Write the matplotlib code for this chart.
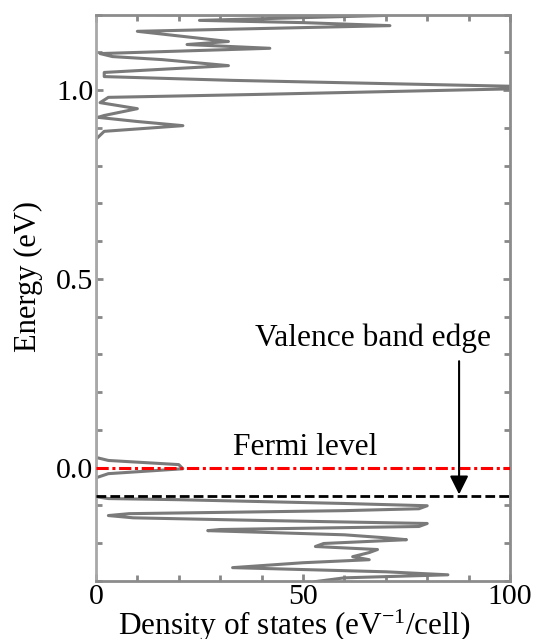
import numpy as np
import matplotlib.pyplot as plt

plt.rcParams['font.family'] = ['Liberation Serif', 'DejaVu Serif']
plt.rcParams['mathtext.fontset'] = 'custom'
plt.rcParams['mathtext.rm'] = 'Liberation Serif'

# density of states (eV^-1/cell) vs energy (eV)
energy = [1.200, 1.198, 1.185, 1.179, 1.171, 1.156, 1.129, 1.121, 1.111, 1.097,
          1.089, 1.081, 1.065, 1.047, 1.036, 1.026, 1.007, 0.989, 0.981, 0.967,
          0.951, 0.933, 0.928, 0.917, 0.906, 0.891, 0.870,
          0.027, 0.019, 0.008, -0.003, -0.016, -0.027,
          -0.077, -0.082, -0.085, -0.095, -0.101, -0.109, -0.114, -0.122, -0.127,
          -0.133, -0.140, -0.148, -0.156, -0.164, -0.167, -0.178, -0.186, -0.191,
          -0.201, -0.209, -0.217, -0.225, -0.236, -0.244, -0.252, -0.265, -0.276,
          -0.284, -0.292, -0.302]
dos = [15, 70, 25, 50, 71, 10, 32, 22, 42, 1,
       4, 16, 32, 2, 2, 33, 115, 40, 3, 1,
       10, 2, 0.5, 10, 21, 2, 0,
       0, 3, 20, 21, 3, 0,
       0, 3, 20, 60, 80, 78, 60, 8, 3,
       9, 40, 80, 78, 30, 27, 60, 70, 75,
       55, 53, 68, 66, 62, 66, 50, 33, 70,
       85, 60, 53]

fermi_level = 0.0
valence_edge = -0.075

fig = plt.figure(figsize=(5.42, 6.39), dpi=100)
ax = fig.add_axes([0.177, 0.091, 0.764, 0.886])

ax.plot(dos, energy, color='#7a7a7a', linewidth=2.2, zorder=2)
ax.axhline(fermi_level, color='red', linewidth=2.2,
           linestyle=(0, (4, 1.2, 1, 1.2)), zorder=3)
ax.axhline(valence_edge, color='black', linewidth=2.0,
           linestyle=(0, (3.5, 1.5)), zorder=3)

ax.annotate('', xy=(87.7, valence_edge + 0.004), xytext=(87.7, 0.282),
            arrowprops=dict(arrowstyle='-|>', color='black', lw=1.5,
                            mutation_scale=28, shrinkA=0, shrinkB=0))
ax.text(66.8, 0.321, 'Valence band edge', fontsize=22.7, ha='center', va='baseline')
ax.text(50.5, 0.034, 'Fermi level', fontsize=22.7, ha='center', va='baseline')

ax.set_xlim(0, 100)
ax.set_ylim(-0.3, 1.2)
ax.set_xticks([0, 50, 100])
ax.set_xticks(np.arange(0, 101, 10), minor=True)
ax.set_yticks([0.0, 0.5, 1.0])
ax.set_yticklabels(['0.0', '0.5', '1.0'])
ax.set_yticks(np.arange(-0.3, 1.21, 0.1), minor=True)
ax.tick_params(which='both', direction='in', top=True, right=True,
               color='#888888', width=2, labelsize=21.5, pad=2)
ax.tick_params(which='major', length=5)
ax.tick_params(which='minor', length=4)

for s in ax.spines.values():
    s.set_color('#8c8c8c')
    s.set_linewidth(2)
ax.spines['left'].set_color('#a8a8a8')

ax.set_xlabel('Density of states (eV$\\mathregular{^{-1}}$/cell)', fontsize=22.5)
ax.xaxis.label.set_va('baseline')
ax.xaxis.set_label_coords(0.479, -0.0954)
ax.set_ylabel('Energy (eV)', fontsize=22)
ax.yaxis.set_label_coords(-0.128, 0.537)

fig.savefig('out.png', dpi=100)
